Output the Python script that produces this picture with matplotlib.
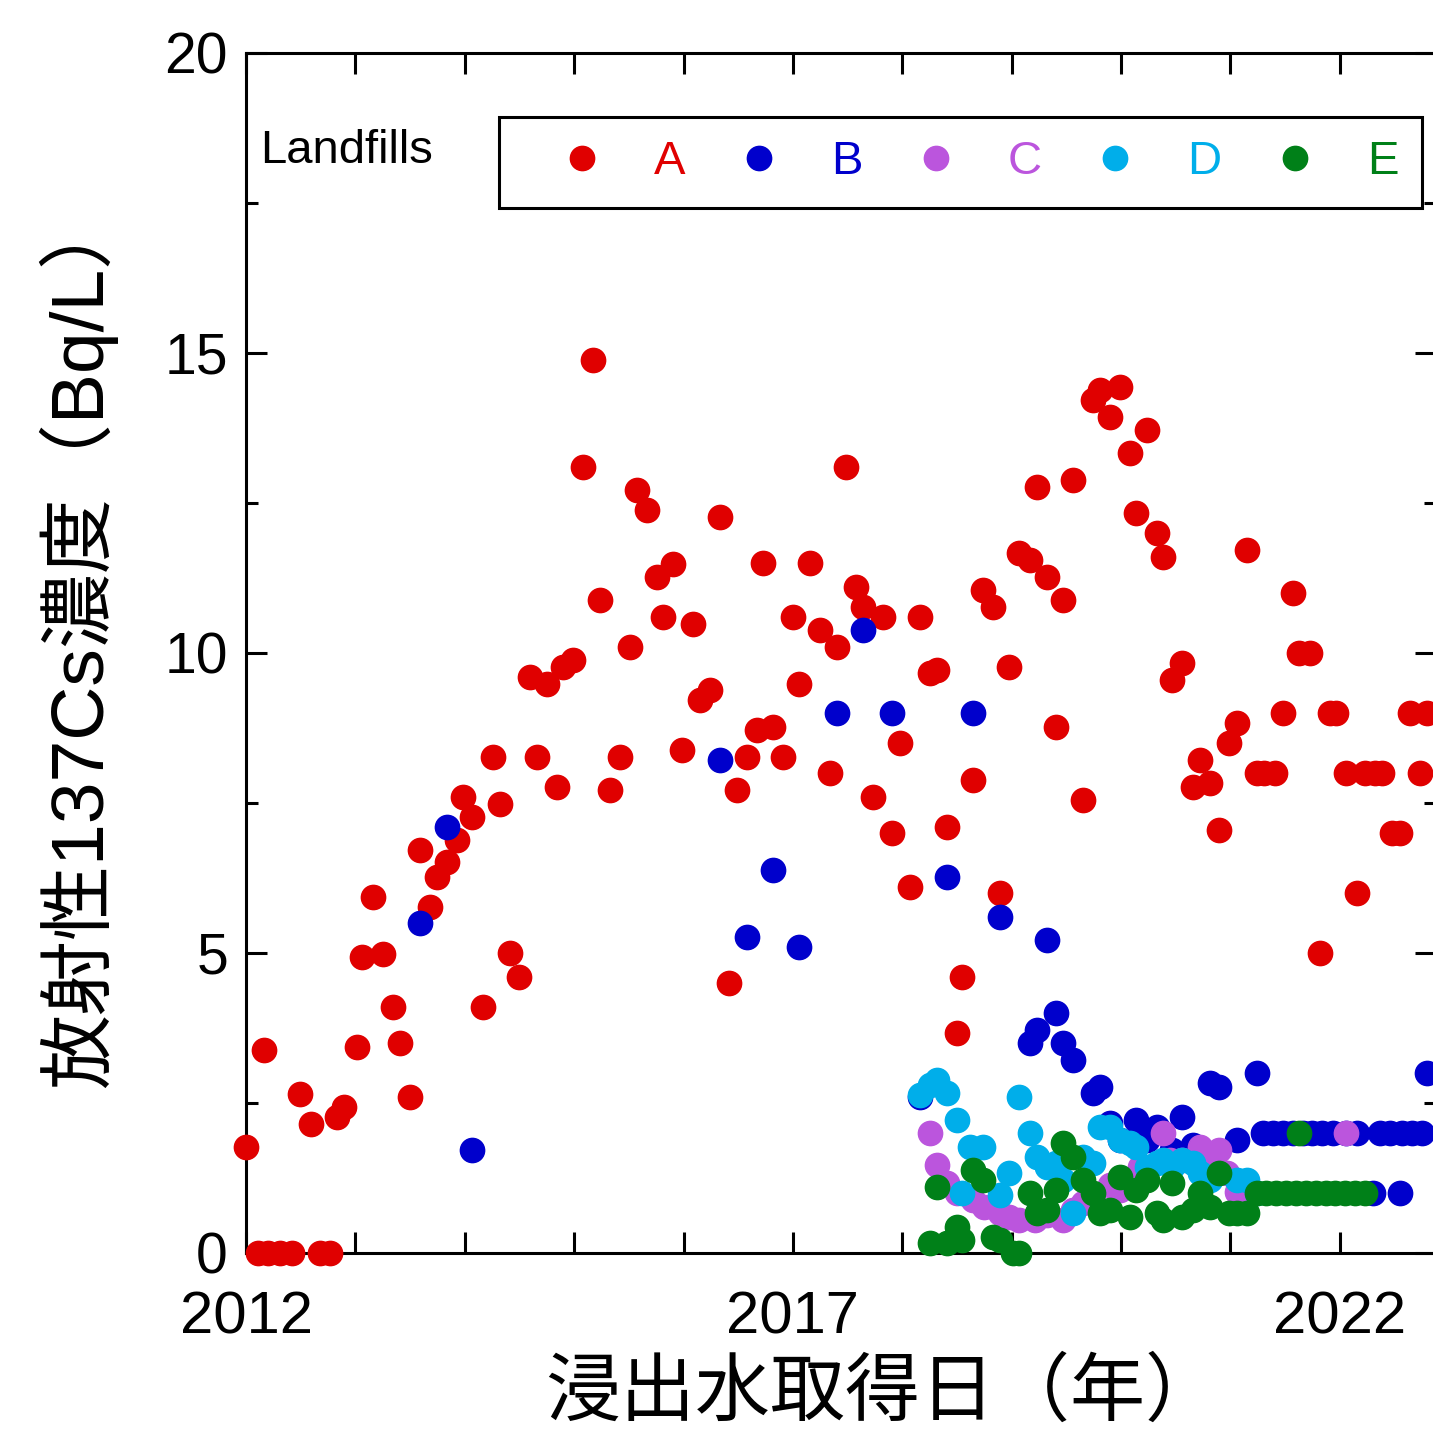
import matplotlib
matplotlib.use("Agg")
import matplotlib.pyplot as plt
from matplotlib.ticker import MultipleLocator, FuncFormatter

plt.rcParams['font.family'] = ['Liberation Sans', 'Noto Sans CJK JP', 'DejaVu Sans']

# sampling dates (decimal year) and 137Cs concentration (Bq/L) per landfill
a_year = [2012.00, 2012.16, 2012.11, 2012.20, 2012.31, 2012.42, 2012.68, 2012.77,
          2012.49, 2012.59, 2012.83, 2012.90, 2013.01, 2013.06, 2013.16, 2013.25,
          2013.34, 2013.41, 2013.50, 2013.59, 2013.68, 2013.75, 2013.84, 2013.93,
          2013.98, 2014.07, 2014.17, 2014.26, 2014.32, 2014.41, 2014.50, 2014.60,
          2014.66, 2014.75, 2014.84, 2014.90, 2014.99, 2015.08, 2015.17, 2015.24,
          2015.33, 2015.42, 2015.51, 2015.57, 2015.67, 2015.76, 2015.81, 2015.90,
          2015.99, 2016.09, 2016.15, 2016.24, 2016.33, 2016.42, 2016.49, 2016.58,
          2016.67, 2016.73, 2016.82, 2016.91, 2017.00, 2017.06, 2017.16, 2017.25,
          2017.34, 2017.40, 2017.49, 2017.58, 2017.64, 2017.73, 2017.82, 2017.91,
          2017.98, 2018.07, 2018.16, 2018.25, 2018.32, 2018.41, 2018.50, 2018.55,
          2018.65, 2018.74, 2018.83, 2018.89, 2018.98, 2019.07, 2019.17, 2019.23,
          2019.32, 2019.41, 2019.47, 2019.56, 2019.65, 2019.74, 2019.81, 2019.90,
          2019.99, 2020.08, 2020.14, 2020.24, 2020.33, 2020.38, 2020.47, 2020.56,
          2020.66, 2020.72, 2020.81, 2020.90, 2020.99, 2021.06, 2021.15, 2021.24,
          2021.31, 2021.41, 2021.48, 2021.57, 2021.63, 2021.73, 2021.82, 2021.91,
          2021.97, 2022.06, 2022.16, 2022.23, 2022.32, 2022.39, 2022.48, 2022.55,
          2022.64, 2022.73, 2022.80]
a_val = [1.77, 3.38, 0.0, 0.0, 0.0, 0.0, 0.0, 0.0,
         2.65, 2.15, 2.27, 2.43, 3.43, 4.93, 5.93, 4.98,
         4.10, 3.50, 2.60, 6.72, 5.77, 6.27, 6.52, 6.88,
         7.60, 7.27, 4.10, 8.27, 7.48, 5.00, 4.60, 9.60,
         8.27, 9.48, 7.77, 9.77, 9.88, 13.10, 14.88, 10.88,
         7.72, 8.27, 10.10, 12.72, 12.38, 11.27, 10.60, 11.48,
         8.38, 10.48, 9.22, 9.38, 12.27, 4.50, 7.72, 8.27,
         8.72, 11.50, 8.77, 8.27, 10.60, 9.48, 11.50, 10.38,
         8.00, 10.10, 13.10, 11.10, 10.77, 7.60, 10.60, 7.00,
         8.50, 6.10, 10.60, 9.67, 9.72, 7.10, 3.67, 4.60,
         7.88, 11.05, 10.77, 6.00, 9.77, 11.67, 11.55, 12.77,
         11.27, 8.77, 10.88, 12.88, 7.55, 14.22, 14.38, 13.93,
         14.43, 13.33, 12.33, 13.72, 12.00, 11.60, 9.55, 9.83,
         7.77, 8.22, 7.83, 7.05, 8.50, 8.83, 11.72, 8.00,
         8.00, 8.00, 9.00, 11.00, 10.00, 10.00, 5.00, 9.00,
         9.00, 8.00, 6.00, 8.00, 8.00, 8.00, 7.00, 7.00,
         9.00, 8.00, 9.00]

b_year = [2013.59, 2013.84, 2014.07, 2016.33, 2016.58, 2016.82, 2017.06, 2017.40,
          2017.64, 2017.91, 2018.16, 2018.41, 2018.65, 2018.89, 2019.17, 2019.23,
          2019.32, 2019.41, 2019.47, 2019.56, 2019.74, 2019.81, 2019.90, 2019.99,
          2020.14, 2020.24, 2020.33, 2020.47, 2020.56, 2020.66, 2020.81, 2020.90,
          2021.06, 2021.24, 2021.30, 2021.39, 2021.48, 2021.57, 2021.66, 2021.75,
          2021.84, 2021.94, 2022.06, 2022.16, 2022.30, 2022.37, 2022.46, 2022.55,
          2022.57, 2022.66, 2022.75, 2022.80]
b_val = [5.50, 7.10, 1.72, 8.22, 5.27, 6.38, 5.10, 9.00,
         10.38, 9.00, 2.60, 6.27, 9.00, 5.60, 3.50, 3.72,
         5.22, 4.00, 3.50, 3.22, 2.67, 2.77, 2.17, 1.88,
         2.22, 1.88, 2.10, 1.72, 2.27, 1.80, 2.83, 2.77,
         1.88, 3.00, 2.00, 2.00, 2.00, 2.00, 2.00, 2.00,
         2.00, 2.00, 2.00, 2.00, 1.00, 2.00, 2.00, 1.00,
         2.00, 2.00, 2.00, 3.00]

c_year = [2018.25, 2018.32, 2018.41, 2018.50, 2018.65, 2018.75, 2018.89, 2018.98,
          2019.07, 2019.21, 2019.32, 2019.47, 2019.56, 2019.65, 2019.74, 2019.90,
          2019.99, 2020.08, 2020.17, 2020.38, 2020.45, 2020.56, 2020.72, 2020.81,
          2020.90, 2020.97, 2021.06, 2022.06]
c_val = [2.00, 1.47, 1.17, 1.00, 0.88, 0.77, 0.67, 0.60,
         0.55, 0.55, 0.63, 0.55, 0.72, 0.83, 0.97, 1.13,
         1.05, 1.22, 1.43, 2.00, 1.55, 1.55, 1.77, 1.55,
         1.72, 1.33, 1.02, 2.00]

d_year = [2018.16, 2018.25, 2018.32, 2018.41, 2018.50, 2018.55, 2018.62, 2018.74,
          2018.89, 2018.98, 2019.07, 2019.17, 2019.23, 2019.32, 2019.41, 2019.47,
          2019.56, 2019.65, 2019.74, 2019.81, 2019.90, 2019.99, 2020.08, 2020.14,
          2020.24, 2020.33, 2020.38, 2020.47, 2020.56, 2020.66, 2020.72, 2020.81,
          2021.06, 2021.15, 2021.24]
d_val = [2.63, 2.80, 2.88, 2.67, 2.22, 1.00, 1.77, 1.77,
         0.97, 1.33, 2.60, 2.00, 1.60, 1.43, 1.50, 1.22,
         0.67, 1.60, 1.50, 2.10, 2.10, 1.88, 1.83, 1.77,
         1.43, 1.50, 1.55, 1.43, 1.55, 1.50, 1.33, 1.22,
         1.22, 1.22, 1.00]

e_year = [2018.25, 2018.32, 2018.41, 2018.50, 2018.55, 2018.65, 2018.74, 2018.83,
          2018.89, 2019.01, 2019.07, 2019.17, 2019.23, 2019.32, 2019.41, 2019.47,
          2019.56, 2019.65, 2019.74, 2019.81, 2019.90, 2019.99, 2020.08, 2020.14,
          2020.24, 2020.33, 2020.38, 2020.47, 2020.56, 2020.66, 2020.72, 2020.81,
          2020.90, 2020.99, 2021.06, 2021.15, 2021.24, 2021.33, 2021.42, 2021.51,
          2021.60, 2021.69, 2021.78, 2021.87, 2021.96, 2022.05, 2022.14, 2022.23,
          2021.63]
e_val = [0.17, 1.10, 0.17, 0.43, 0.22, 1.38, 1.22, 0.27,
         0.22, 0.00, 0.00, 1.00, 0.67, 0.72, 1.05, 1.83,
         1.60, 1.22, 1.00, 0.67, 0.72, 1.27, 0.60, 1.05,
         1.22, 0.67, 0.55, 1.17, 0.60, 0.72, 1.00, 0.77,
         1.33, 0.67, 0.67, 0.67, 1.00, 1.00, 1.00, 1.00,
         1.00, 1.00, 1.00, 1.00, 1.00, 1.00, 1.00, 1.00,
         2.00]

names = ['A', 'B', 'C', 'D', 'E']
colors = ['#E00000', '#0000CC', '#BB55DD', '#00AEEA', '#008018']
series = [(a_year, a_val), (b_year, b_val), (c_year, c_val),
          (d_year, d_val), (e_year, e_val)]

fig = plt.figure(figsize=(14.33, 14.30), dpi=100)
ax = fig.add_axes([0.1717, 0.1238, 0.8304, 0.8392])

handles = []
for (xs, ys), name, col in zip(series, names, colors):
    h, = ax.plot(xs, ys, 'o', ls='none', ms=17.5, color=col, mec=col,
                 label=name, clip_on=False, zorder=3)
    handles.append(h)

ax.set_xlim(2012, 2022.88)
ax.set_ylim(0, 20)

ax.xaxis.set_major_locator(MultipleLocator(1))
ax.xaxis.set_major_formatter(FuncFormatter(
    lambda v, p: f"{int(round(v))}" if int(round(v)) % 5 == 2 else ""))
ax.yaxis.set_major_locator(MultipleLocator(5))
ax.yaxis.set_minor_locator(MultipleLocator(2.5))

ax.tick_params(axis='both', which='both', direction='in', top=True, right=True,
               width=2.2)
ax.tick_params(axis='x', which='major', length=15, pad=27, labelsize=43)
ax.tick_params(axis='y', which='major', length=15, pad=13, labelsize=41)
ax.tick_params(axis='y', which='minor', length=8.5)
for sp in ax.spines.values():
    sp.set_linewidth(2.2)

ax.set_xlabel('浸出水取得日（年）', fontsize=54)
ax.set_ylabel('放射性137Cs濃度（Bq/L）', fontsize=54)
ax.xaxis.set_label_coords(0.535, -0.088)
ax.yaxis.set_label_coords(-0.108, 0.511)

ax.text(0.0118, 0.918, 'Landfills', transform=ax.transAxes, fontsize=34,
        ha='left', va='center')

leg = ax.legend(handles=handles, ncol=5, loc='upper left',
                bbox_to_anchor=(0.2126, 0.9467), fontsize=34,
                labelcolor='markerfacecolor', frameon=True, fancybox=False,
                edgecolor='black', framealpha=1, borderpad=0.5,
                handlelength=2.5, handletextpad=0.28, columnspacing=0.3,
                borderaxespad=0)
leg.get_frame().set_linewidth(2.2)

fig.savefig('out.png', dpi=100)
